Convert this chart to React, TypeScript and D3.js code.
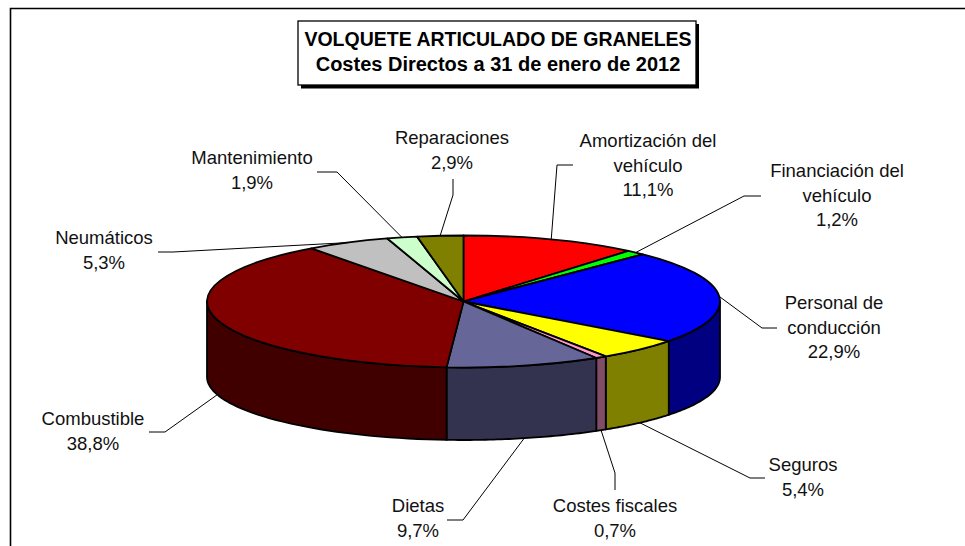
import React from "react";
import * as d3 from "d3";

const categories = [
  "Amortización del vehículo",
  "Financiación del vehículo",
  "Personal de conducción",
  "Seguros",
  "Costes fiscales",
  "Dietas",
  "Combustible",
  "Neumáticos",
  "Mantenimiento",
  "Reparaciones",
];
const values = [11.1, 1.2, 22.9, 5.4, 0.7, 9.7, 38.8, 5.3, 1.9, 2.9];
const topColors = [
  "#ff0000", "#00ff00", "#0000ff", "#ffff00", "#ff99cc",
  "#666699", "#800000", "#c0c0c0", "#ccffcc", "#808000",
];
const sideColors = [
  "#800000", "#008000", "#000080", "#808000", "#804c66",
  "#333350", "#400000", "#606060", "#668066", "#404000",
];
const titleLines = [
  "VOLQUETE ARTICULADO DE GRANELES",
  "Costes Directos a 31 de enero de 2012",
];
const titleSizes = [19.5, 20];

// how each label breaks over lines
const labelLines = [
  ["Amortización del", "vehículo"],
  ["Financiación del", "vehículo"],
  ["Personal de", "conducción"],
  ["Seguros"],
  ["Costes fiscales"],
  ["Dietas"],
  ["Combustible"],
  ["Neumáticos"],
  ["Mantenimiento"],
  ["Reparaciones"],
];

// label layout: centre x, first baseline
const labelPos = [
  [648, 147], [837, 177], [834, 309], [803, 471], [615, 512],
  [418, 512], [93, 425], [104, 244], [252, 164], [452, 144],
];
// leader layout: elbow, then the end next to the text
const leaderPos = [
  [[557, 165], [573, 165]],
  [[744, 196], [761, 196]],
  [[762, 328], [777, 328]],
  [[750, 478], [765, 478]],
  [[615, 473], [615, 490]],
  [[463, 520], [447, 520]],
  [[165, 432], [149, 432]],
  [[173, 252], [158, 252]],
  [[337, 172], [317, 172]],
  [[453, 195], [453, 179]],
];

const cx = 463.5;
const cy = 301.5;
const rx = 256.5;
const ry = 66;
const lowCy = 377;
const lowRy = 63;
const fontName = "'Liberation Sans', Arial, sans-serif";
const lineGap = 24.5;

const topPoint = (a: number): [number, number] => [
  cx + rx * Math.sin(a),
  cy - ry * Math.cos(a),
];
const lowPoint = (a: number): [number, number] => [
  cx + rx * Math.sin(a),
  lowCy - lowRy * Math.cos(a),
];

const fmt = d3.format(".1f");
const pctText = (v: number) => fmt(v).replace(".", ",") + "%";

const App = () => {
  const slices = d3.pie<number>().sort(null)(values);
  const unitArc = d3.arc<d3.PieArcDatum<number>>().innerRadius(0).outerRadius(1);
  const line = d3.line();

  return (
    <svg
      width={965}
      height={546}
      style={{ position: "absolute", left: 0, top: 0, background: "#fff" }}
    >
      {/* chart frame, open at right and bottom */}
      <path d="M10.5,546V8.5H965" fill="none" stroke="#000" strokeWidth={1.6} />

      {/* title box */}
      <rect x={301} y={24} width={398} height={64.5} fill="#000" />
      <rect x={298} y={21} width={398} height={64} fill="#fff" stroke="#000" strokeWidth={1.3} />
      {titleLines.map((t, i) => (
        <text
          key={t}
          x={498}
          y={46 + i * 25}
          textAnchor="middle"
          fontFamily={fontName}
          fontWeight="bold"
          fontSize={titleSizes[i]}
          fill="#000"
        >
          {t}
        </text>
      ))}

      {/* side wall: only the front half of the drum shows */}
      {slices.map((s, i) => {
        const a0 = Math.max(s.startAngle, Math.PI / 2);
        const a1 = Math.min(s.endAngle, (3 * Math.PI) / 2);
        if (a1 <= a0) return null;
        const steps = d3.range(0, 41).map((k) => a0 + ((a1 - a0) * k) / 40);
        const pts = [...steps.map(topPoint), ...steps.slice().reverse().map(lowPoint)];
        return (
          <path
            key={categories[i]}
            d={line(pts) + "Z"}
            fill={sideColors[i]}
            stroke="#000"
            strokeWidth={1.8}
            strokeLinejoin="round"
          />
        );
      })}

      {/* top face */}
      <g transform={`translate(${cx},${cy}) scale(${rx},${ry})`}>
        {slices.map((s, i) => (
          <path
            key={categories[i]}
            d={unitArc(s) as string}
            fill={topColors[i]}
            stroke="#000"
            strokeWidth={1.8}
            strokeLinejoin="round"
            vectorEffect="non-scaling-stroke"
          />
        ))}
      </g>

      {/* leader lines start at the middle of each slice's rim */}
      {slices.map((s, i) => {
        const mid = (s.startAngle + s.endAngle) / 2;
        const start = Math.cos(mid) < 0 ? lowPoint(mid) : topPoint(mid);
        return (
          <path
            key={categories[i]}
            d={line([start, ...(leaderPos[i] as [number, number][])]) as string}
            fill="none"
            stroke="#000"
            strokeWidth={1}
          />
        );
      })}

      {/* labels */}
      {categories.map((c, i) => (
        <text
          key={c}
          textAnchor="middle"
          fontFamily={fontName}
          fontSize={18.5}
          fill="#111"
        >
          {[...labelLines[i], pctText(values[i])].map((t, k) => (
            <tspan key={k} x={labelPos[i][0]} y={labelPos[i][1] + k * lineGap}>
              {t}
            </tspan>
          ))}
        </text>
      ))}
    </svg>
  );
};

export default App;
